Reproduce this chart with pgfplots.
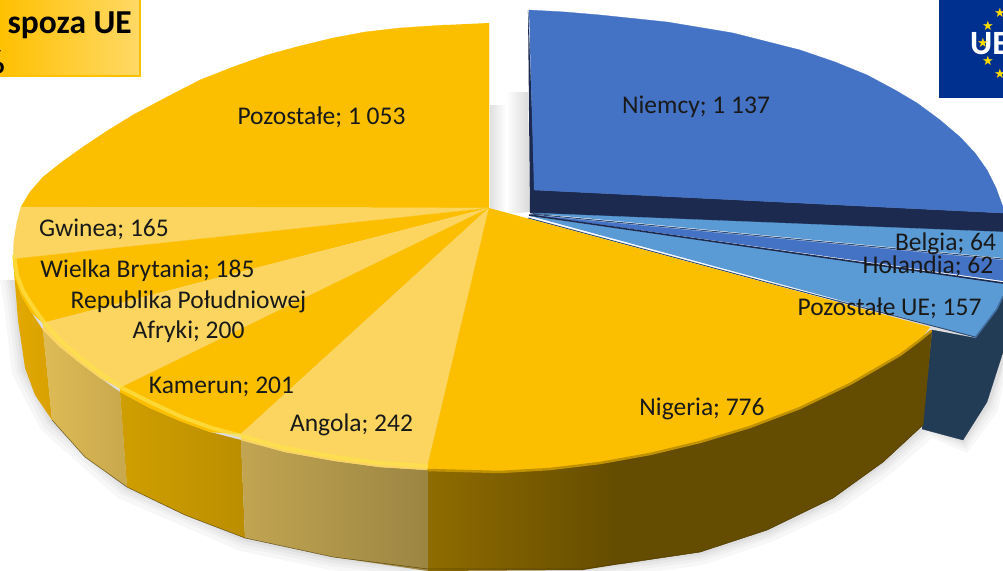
\documentclass[border=0pt]{standalone}
\usepackage{pgfplots}
\usepackage{fontspec}
\pgfplotsset{compat=1.18}
\setmainfont{Carlito}
\newfontfamily\symfont{DejaVu Sans}
\definecolor{yel}{HTML}{FBBF00}
\definecolor{lyel}{HTML}{FBD55F}
\definecolor{bl}{HTML}{4472C4}
\definecolor{lbl}{HTML}{5B9BD5}
\definecolor{navy}{HTML}{1B2A4E}
\definecolor{navyb}{HTML}{223C55}
\definecolor{wbA}{HTML}{E2A900}
\definecolor{wbB}{HTML}{D9A100}
\definecolor{rpaA}{HTML}{DEBB55}
\definecolor{rpaB}{HTML}{C8A84E}
\definecolor{kamA}{HTML}{CF9F00}
\definecolor{kamB}{HTML}{BB8E00}
\definecolor{angA}{HTML}{C2A552}
\definecolor{angB}{HTML}{9B8542}
\definecolor{nigA}{HTML}{8F6C00}
\definecolor{nigB}{HTML}{644C00}
\definecolor{bev}{HTML}{FFE24A}
\definecolor{nigrim}{HTML}{C09200}
\definecolor{boxA}{HTML}{FFC000}
\definecolor{boxB}{HTML}{FFD966}
\definecolor{eu}{HTML}{00308F}
\definecolor{star}{HTML}{FFDD00}
\tikzset{poly/.style={fill=#1,draw=#1,line width=0.3pt},
 lab/.style={font=\fontsize{25.5}{30}\selectfont,text=black!90,inner sep=0pt,align=center},
 st/.style={inner sep=0pt,text=star,font=\fontsize{13}{13}\selectfont\symfont}}
\begin{document}
\begin{tikzpicture}
\path[use as bounding box] (0,0) rectangle (1003pt,570pt);
\begin{axis}[at={(0,0)},anchor=south west,scale only axis,width=1003pt,height=570pt,
 xmin=0,xmax=1003,ymin=0,ymax=570,y dir=reverse,hide axis,clip=true,clip mode=global]
% soft shadows
\addplot[left color=black!12,right color=white,draw=none] coordinates {(490,105)(506,105)(506,214)(490,214)};
\addplot[left color=white,right color=black!15,draw=none] coordinates {(506,92)(528,92)(530,212)(506,214)};
\addplot[fill=black!3,draw=none] coordinates {(0,280)(4,306)(12,374)(41,430)(118,498)(240,551)(331,570)(428,581)(583,581)(703,565)(771,542)(840,510)(892,473)(932,438)(967,453)(998,411)(1006,368)(1006,300)(500,300)};
\addplot[fill=black!6,draw=none] coordinates {(4,280)(8,305)(16,372)(44,427)(121,494)(242,547)(332,566)(428,577)(583,577)(702,561)(770,538)(838,506)(889,469)(929,434)(966,449)(995,408)(1006,362)(1006,300)(500,300)};
\addplot[fill=black!9,draw=none] coordinates {(7,280)(11,304)(19,371)(47,424)(123,492)(243,544)(332,563)(428,574)(583,574)(701,558)(769,536)(836,503)(887,467)(927,431)(965,446)(992,406)(1006,358)(1006,300)(500,300)};
\addplot[fill=black!13,draw=none] coordinates {(10,280)(14,303)(22,370)(49,422)(125,489)(244,541)(333,560)(428,571)(583,571)(701,555)(768,533)(835,501)(885,464)(925,428)(964,443)(990,404)(1006,354)(1006,300)(500,300)};
% Blue part
\addplot[poly=navy] coordinates {(528,10)(535,190)(1003,213)(1003,232)(530,213)};
\addplot[poly=bl] coordinates {(529,10)(565,12)(600,15)(667,22)(733,33)(800,50)(835,62)(867,75)(895,90)(917,103)(940,120)(960,137)(975,153)(987,170)(996,188)(1003,207)(1003,213)(534,190)};
\addplot[poly=navy] coordinates {(533,212)(1003,231)(1003,235)(533,214)};
\addplot[poly=lbl] coordinates {(532,213)(1003,232)(1003,258)};
\addplot[draw=navy!70!lbl,line width=1pt] coordinates {(531,214)(1003,259)};
\addplot[poly=bl] coordinates {(532,215)(1003,260)(1003,281)};
\addplot[poly=navyb] coordinates {(932,330)(975,338)(1003,296)(1003,352)(987,402)(963,440)(922,429)};
\addplot[poly=lbl] coordinates {(530,216)(1003,283)(1003,295)(997,308)(975,337)};
\addplot[draw=navy,line width=1.6pt] coordinates {(529,215)(1003,283)};
\addplot[draw=navy!70!lbl,line width=1pt] coordinates {(528,218)(773,284)(975,337)};
\addplot[draw=lbl!60!navy,line width=1.5pt] coordinates {(975,338)(997,309)(1003,296)};
% Yellow sides
\addplot[left color=wbA,right color=wbB,draw=none] coordinates {(13,259)(15,278)(21,295)(31,312)(43,330)(52,420)(35,395)(25,368)(18,320)};
\addplot[left color=rpaA,right color=rpaB,draw=none] coordinates {(43,330)(60,347)(80,363)(100,378)(120,392)(127,487)(85,457)(52,420)};
\addplot[left color=kamA,right color=kamB,draw=none] coordinates {(120,392)(150,408)(180,421)(210,432)(241,440)(245,538)(185,515)(127,487)};
\addplot[left color=angA,right color=angB,draw=none] coordinates {(241,440)(285,452)(335,461)(380,467)(428,470)(428,571)(333,557)(245,538)};
\addplot[left color=nigA,right color=nigB,draw=none] coordinates {(428,470)(500,472)(550,469)(600,463)(620,459)(620,564)(583,570)(428,571)};
\addplot[poly=nigB] coordinates {(620,459)(650,454)(700,442)(750,427)(800,408)(850,384)(900,355)(920,340)(932,330)(923,425)(883,462)(833,498)(767,530)(700,552)(620,564)};
\addplot[draw=black!25!nigB,draw opacity=0.7,line width=0.6pt] coordinates {(52,420)(85,457)(127,487)(185,515)(245,538)(333,557)(428,569)(583,569)(700,552)(767,530)(833,498)(883,462)(923,425)};
% Yellow top
\addplot[poly=yel] coordinates {(489,23)(489,208)(21,207)(30,192)(43,177)(62,162)(83,147)(107,131)(133,115)(167,97)(200,80)(233,67)(267,55)(300,46)(333,38)(365,32)(400,28)(445,25)};
\addplot[poly=lyel] coordinates {(489,208)(21,207)(17,222)(14,240)(13,259)};
\addplot[poly=yel] coordinates {(489,208)(13,259)(15,278)(21,295)(31,312)(43,323)};
\addplot[poly=lyel] coordinates {(489,208)(43,323)(43,330)(60,347)(80,363)(100,378)(120,388)};
\addplot[poly=yel] coordinates {(489,208)(120,388)(120,392)(150,408)(180,421)(210,432)(241,434)};
\addplot[poly=lyel] coordinates {(489,208)(241,434)(241,440)(285,452)(335,461)(380,467)(428,470)(428,464)};
\addplot[poly=yel] coordinates {(489,208)(428,464)(428,470)(500,472)(550,469)(600,463)(650,454)(700,442)(750,427)(800,408)(850,384)(900,355)(920,340)(930,327)};
\addplot[draw=bev,line width=4pt,opacity=0.7,line cap=butt] coordinates {(14,255)(17,275)(23,291)(33,307)(46,325)(63,343)(83,360)(103,375)(122,388)(152,403)(182,417)(212,428)(242,436)(285,448)(335,457)(380,463)(428,466)};
\addplot[draw=nigrim,line width=2.5pt,line cap=round] coordinates {(428,470)(500,472)(550,469)(600,463)(650,454)(700,442)(750,427)(800,408)(850,384)(900,355)(920,340)(931,331)};
% Title box
\addplot[left color=boxA,right color=boxB,draw=boxA,line width=2pt] coordinates {(-3,-3)(140,-3)(140,76)(-3,76)(-3,-3)};
\node[anchor=east,inner sep=0pt,font=\fontsize{33.5}{38}\selectfont\bfseries] at (axis cs:132,25) {spoza UE};
\node[anchor=east,inner sep=0pt,font=\fontsize{33.5}{38}\selectfont\bfseries] at (axis cs:5,62) {\%};
% EU logo
\addplot[poly=eu] coordinates {(939,-1)(1004,-1)(1004,97)(939,97)};
\node[anchor=west,inner sep=0pt,text=white,font=\fontsize{34}{38}\selectfont\bfseries] at (axis cs:970,44) {UE};
\node[st] at (axis cs:1000,13) {★};
\node[st] at (axis cs:988,26) {★};
\node[st] at (axis cs:983,43) {★};
\node[st] at (axis cs:988,61) {★};
\node[st] at (axis cs:1000,74) {★};
% Labels
\node[lab] at (axis cs:321.5,117) {Pozostałe; 1 053};
\node[lab] at (axis cs:696,107) {Niemcy; 1 137};
\node[lab] at (axis cs:104,229) {Gwinea; 165};
\node[lab] at (axis cs:147.5,271) {Wielka Brytania; 185};
\node[lab] at (axis cs:188.5,302) {Republika Południowej};
\node[lab] at (axis cs:188.5,332) {Afryki; 200};
\node[lab] at (axis cs:221.5,387) {Kamerun; 201};
\node[lab] at (axis cs:351.5,425) {Angola; 242};
\node[lab] at (axis cs:702,409) {Nigeria; 776};
\node[lab] at (axis cs:945.5,244) {Belgia; 64};
\node[lab] at (axis cs:928,266) {Holandia; 62};
\node[lab] at (axis cs:889.5,308) {Pozostałe UE; 157};
\end{axis}
\end{tikzpicture}
\end{document}
